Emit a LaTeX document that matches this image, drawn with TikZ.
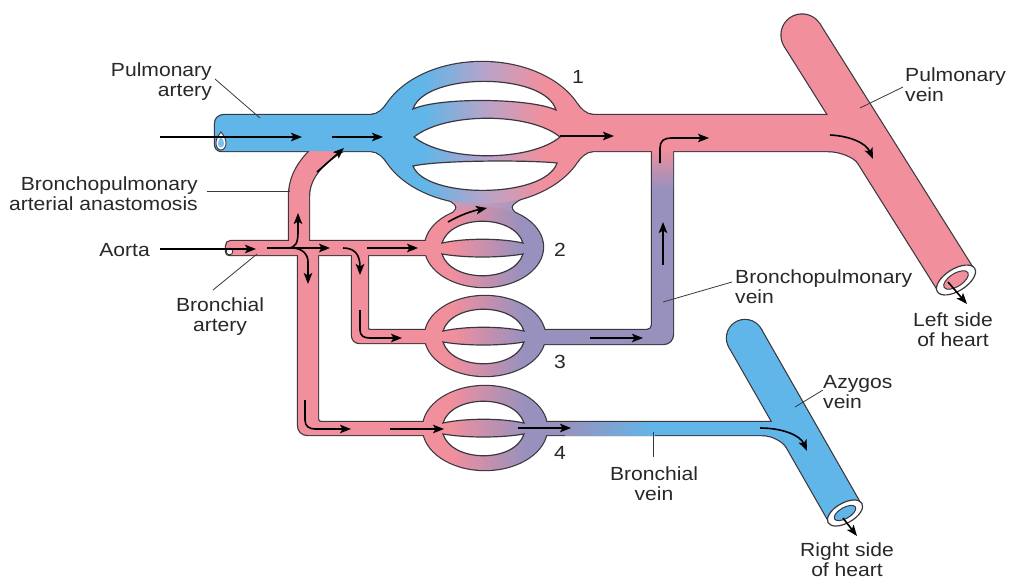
\documentclass[tikz,border=0pt]{standalone}
\usepackage{fontspec}
\setmainfont{Liberation Sans}[FakeStretch=1.11]
\usetikzlibrary{arrows.meta}

\definecolor{cblue}{RGB}{96,182,232}
\definecolor{cpink}{RGB}{242,143,157}
\definecolor{cpurp}{RGB}{152,145,190}
\definecolor{clav}{RGB}{184,163,200}
\definecolor{edge}{RGB}{58,56,62}
\definecolor{ink}{RGB}{40,40,40}

\pgfdeclarelayer{back}
\pgfdeclarelayer{rim}
\pgfsetlayers{back,rim,main}

% colour ramps across the capillary beds
\pgfdeclarehorizontalshading{bedone}{100bp}{color(0bp)=(cblue); color(36bp)=(cblue); color(51bp)=(clav); color(65bp)=(cpink); color(100bp)=(cpink)}
\pgfdeclarehorizontalshading{bedpp}{100bp}{color(0bp)=(cpink); color(36bp)=(cpink); color(66bp)=(cpurp); color(100bp)=(cpurp)}

% a vessel: dark rim on the rim layer, body on the main layer,
% so touching vessels merge into one outlined shape
\newcommand\vessel[2]{%
  \begin{pgfonlayer}{rim}\path[draw=edge, fill=edge, line width=2.4pt, line join=round] #2;\end{pgfonlayer}%
  \path[#1] #2;}

\begin{document}
\begin{tikzpicture}[x=1pt,y=-1pt,
  lbl/.style={font=\fontsize{19}{20}\selectfont, text=ink, inner sep=0pt},
  flow/.style={draw=black, line width=1.6pt, -{Stealth[length=11pt,width=8.5pt,inset=2.5pt]}},
  lead/.style={draw=edge, line width=0.8pt},
  hole/.style={fill=white, draw=edge, line width=1.2pt}]

\begin{pgfonlayer}{back}\fill[white] (0,0) rectangle (1009,579);\end{pgfonlayer}
\useasboundingbox (0,0) rectangle (1009,579);

% ---- bronchial arteries (from the aorta) ----
\vessel{fill=cpink}{(432,241) -- (231,241) .. controls (228,241) and (226,243) .. (226,246) -- (226,251) .. controls (226,254) and (227,255) .. (230,255) -- (432,255) -- cycle}
\begin{pgfonlayer}{rim}\draw[edge, line width=22.4pt] (299,250) -- (299,196) .. controls (299,172) and (318,152) .. (346,138);\end{pgfonlayer}
\draw[cpink, line width=20pt] (299,250) -- (299,196) .. controls (299,172) and (318,152) .. (346,138);
\vessel{fill=cpink}{(298,250) -- (298,425) .. controls (298,431) and (302,435) .. (308,435) -- (432,435) -- (432,422) -- (321,422) .. controls (319,422) and (318,421) .. (318,419) -- (318,250) -- cycle}
\vessel{fill=cpink}{(352,250) -- (352,335) .. controls (352,340) and (355,343) .. (360,343) -- (432,343) -- (432,330) -- (370,330) .. controls (368.5,330) and (368,329.5) .. (368,328) -- (368,250) -- cycle}

% ---- bronchopulmonary vein ----
\vessel{fill=cpurp}{(538,330) -- (647,330) .. controls (650,330) and (652,328) .. (652,325) -- (652,146) -- (673,146) -- (673,334) .. controls (673,340) and (669,344) .. (663,344) -- (538,344) -- cycle}
\shade[top color=cpink, bottom color=cpurp] (652,148) rectangle (673,188);

% ---- pulmonary vein ----
\vessel{fill=cpink}{(570,115) -- (846,115) -- (869,151) -- (570,151) -- cycle}
\vessel{fill=cpink}{(938.6,290.9) -- (784.6,45.9) -- (819.4,24.1) -- (973.4,269.1) -- cycle}
\vessel{fill=cpink}{(802,35) circle [radius=20.5pt]}
\vessel{fill=cpink}{(828,151) .. controls (840,151) and (854.6,157.1) .. (858.3,163) -- (850.7,151) -- cycle}

% ---- pulmonary artery ----
\vessel{fill=cblue}{(400,115) -- (225,115) .. controls (219,115) and (215,118) .. (215,124) -- (215,143) .. controls (215,148) and (217,151) .. (222,151) -- (400,151) -- cycle}

% ---- bronchial vein and azygos vein ----
\vessel{fill=cblue}{(538,422) -- (786,422) -- (796,435) -- (538,435) -- cycle}
\fill[cpurp] (538,422) rectangle (566,435);
\shade[left color=cpurp, right color=cblue] (565,422) rectangle (655,435);
\vessel{fill=cblue}{(829.4,521.9) -- (729.4,346.9) -- (760.6,329.1) -- (860.6,504.1) -- cycle}
\vessel{fill=cblue}{(745,338) circle [radius=18pt]}
\vessel{fill=cblue}{(762,435) .. controls (773,435) and (783.6,441.8) .. (786.6,447) -- (779.8,435) -- cycle}

% ---- flares where the large vessels meet bed 1 ----
\vessel{fill=cblue}{(371,115) .. controls (378,115) and (384.3,108.2) .. (387,104) -- (381.4,115) -- cycle}
\vessel{fill=cblue}{(371,151) .. controls (378,151) and (384.3,157.8) .. (387,162) -- (381.4,151) -- cycle}
\vessel{fill=cpink}{(593,115) .. controls (586,115) and (579.7,108.2) .. (577,104) -- (582.6,115) -- cycle}
\vessel{fill=cpink}{(593,151) .. controls (586,151) and (579.7,157.8) .. (577,162) -- (582.6,151) -- cycle}

% ---- neck joining beds 1 and 2 ----
\vessel{left color=cpink!60!clav, right color=cpurp!60!clav}{(446,198) .. controls (460,206) and (460,208) .. (446,219) -- (522,219) .. controls (508,208) and (508,206) .. (522,198) -- cycle}

% ---- capillary beds ----
\vessel{shade, shading=bedpp}{(484,247) ellipse [x radius=59pt, y radius=40pt]}
\vessel{shade, shading=bedpp}{(485,336) ellipse [x radius=60pt, y radius=40pt]}
\vessel{shade, shading=bedpp}{(485,428) ellipse [x radius=62pt, y radius=42pt]}
\vessel{shade, shading=bedone}{(482,133) ellipse [x radius=104pt, y radius=71pt]}

% holes of bed 1
\path[hole] (413,109) .. controls (425,72) and (545,72) .. (556,110) .. controls (530,98) and (440,97) .. (413,109) -- cycle;
\path[hole] (414,137) .. controls (445,112) and (530,112) .. (560,137) .. controls (530,162) and (445,162) .. (414,137) -- cycle;
\path[hole] (413,166) .. controls (440,160) and (530,160) .. (557,163) .. controls (545,199) and (425,199) .. (413,166) -- cycle;

% holes of beds 2, 3, 4
\foreach \bx/\by in {484/248, 485/336, 485/428}{
  \begin{scope}[shift={(\bx,\by)}]
    \path[hole] (-42,-5) .. controls (-33,-34) and (30,-34) .. (39,-5) .. controls (16,-10) and (-19,-10) .. (-42,-5) -- cycle;
    \path[hole] (-42,6) .. controls (-19,10) and (16,10) .. (39,6) .. controls (30,35) and (-33,35) .. (-42,6) -- cycle;
  \end{scope}}

% ---- open vessel ends ----
\path[fill=white, draw=edge, line width=0.9pt] (221,132) .. controls (218,136) and (216,139) .. (216,143) .. controls (216,147) and (218,150) .. (221,150) .. controls (224,150) and (226,147) .. (226,143) .. controls (226,139) and (224,136) .. (221,132) -- cycle;
\path[fill=cblue!85!white] (221,137) .. controls (219,139.5) and (218,141) .. (218,143.5) .. controls (218,146) and (219.5,147.5) .. (221,147.5) .. controls (222.5,147.5) and (224,146) .. (224,143.5) .. controls (224,141) and (223,139.5) .. (221,137) -- cycle;
\path[fill=white, draw=edge, line width=0.9pt] (229.5,251.5) circle [radius=3.3pt];
\begin{scope}[rotate around={32.15:(956,280)}]
  \path[fill=white, draw=edge, line width=1.2pt] (956,280) ellipse [x radius=22pt, y radius=11pt];
  \path[fill=cpink, draw=edge, line width=1pt] (956,280) ellipse [x radius=14pt, y radius=6.5pt];
\end{scope}
\begin{scope}[rotate around={29.8:(845,513)}]
  \path[fill=white, draw=edge, line width=1.2pt] (845,513) ellipse [x radius=19.5pt, y radius=10pt];
  \path[fill=cblue, draw=edge, line width=1pt] (845,513) ellipse [x radius=12pt, y radius=5.5pt];
\end{scope}

% ---- direction of flow ----
\draw[flow] (160,137) -- (302,137);
\draw[flow] (332,137) -- (383,137);
\draw[flow] (317,172) -- (344,148);
\draw[flow] (160,249) -- (256,249);
\draw[flow] (267,248) -- (330,248);
\draw[flow] (276,248) -- (288,248) .. controls (296,248) and (298,242) .. (298,232) -- (298,213);
\draw[flow] (292,248) .. controls (302,248) and (308,254) .. (308,262) -- (308,284);
\draw[flow] (343,248) .. controls (355,248) and (360,255) .. (360,275);
\draw[flow] (367,248) -- (418,248);
\draw[flow] (360,310) -- (360,330) .. controls (360,336) and (364,338) .. (370,338) -- (402,338);
\draw[flow] (448,222) .. controls (460,215) and (472,211) .. (487,208);
\draw[flow] (305,400) -- (305,420) .. controls (305,426) and (309,429) .. (315,429) -- (351,429);
\draw[flow] (390,429) -- (444,429);
\draw[flow] (518,428) -- (571,428);
\draw[flow] (560,136) -- (614,136);
\draw[flow] (590,338) -- (643,338);
\draw[flow] (663,265) -- (663,222);
\draw[flow] (660,163) -- (660,148) .. controls (660,141) and (664,138) .. (671,138) -- (709,138);
\draw[flow] (830,135) .. controls (850,136) and (866,143) .. (873,159);
\draw[flow] (948,282) -- (967,304);
\draw[flow] (760,428) .. controls (782,428) and (800,435) .. (807,451);
\draw[flow] (843,518) -- (857,536);

% ---- labels ----
\node[lbl, anchor=north east, align=right] (tPA) at (212,63) {Pulmonary\\artery};
\node[lbl, anchor=north east, align=right] (tBA) at (198,177) {Bronchopulmonary\\arterial anastomosis};
\node[lbl, anchor=north east] (tAo) at (150,243) {Aorta};
\node[lbl, anchor=north, align=center] (tBr) at (220,298) {Bronchial\\artery};
\node[lbl, anchor=north west, align=left] (tPV) at (905,68) {Pulmonary\\vein};
\node[lbl, anchor=north west, align=left] (tBV) at (735,270) {Bronchopulmonary\\vein};
\node[lbl, anchor=north, align=center] (tLH) at (953,313) {Left side\\of heart};
\node[lbl, anchor=north west, align=left] (tAz) at (823,375) {Azygos\\vein};
\node[lbl, anchor=north, align=center] (tRH) at (847,543) {Right side\\of heart};
\node[lbl, anchor=north, align=center] (tBrV) at (654,467) {Bronchial\\vein};
\node[lbl] (n1) at (578,77) {1};
\node[lbl] (n2) at (560,250) {2};
\node[lbl] (n3) at (560,362) {3};
\node[lbl] (n4) at (560,453) {4};

% ---- leader lines ----
\coordinate (pa1) at (215,79);   \coordinate (pa2) at (260,118);
\coordinate (ba1) at (207,191);  \coordinate (ba2) at (290,191);
\coordinate (br1) at (213,290);  \coordinate (br2) at (257,254);
\coordinate (pv1) at (903,87);   \coordinate (pv2) at (860,108);
\coordinate (bv1) at (732,282);  \coordinate (bv2) at (663,302);
\coordinate (az1) at (823,390);  \coordinate (az2) at (795,407);
\coordinate (bw1) at (653,457);  \coordinate (bw2) at (653,432);
\draw[lead] (pa1) -- (pa2);
\draw[lead] (ba1) -- (ba2);
\draw[lead] (br1) -- (br2);
\draw[lead] (pv1) -- (pv2);
\draw[lead] (bv1) -- (bv2);
\draw[lead] (az1) -- (az2);
\draw[lead] (bw1) -- (bw2);
\end{tikzpicture}
\end{document}
